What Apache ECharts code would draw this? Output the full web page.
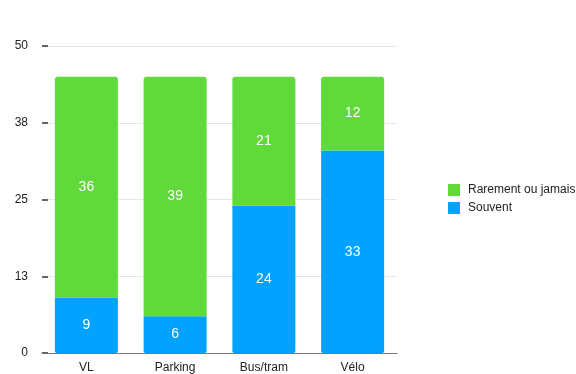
<!DOCTYPE html>
<html>
<head>
<meta charset="utf-8">
<script src="https://cdn.jsdelivr.net/npm/echarts@6/dist/echarts.min.js"></script>
<style>
  html, body { margin: 0; padding: 0; background: #fff; }
  #chart { width: 576px; height: 374px; }
</style>
</head>
<body>
<div id="chart"></div>
<script>
// Usage by mode of transport
const categories = ['VL', 'Parking', 'Bus/tram', 'Vélo'];
const souvent = [9, 6, 24, 33];
const rarement = [36, 39, 21, 12];
const seriesNames = ['Rarement ou jamais', 'Souvent'];
const yTicks = [0, 12.5, 25, 37.5, 50];

const FONT = '"Liberation Sans", Arial, sans-serif';
const chart = echarts.init(document.getElementById('chart'));

const valueLabel = {
  show: true,
  position: 'inside',
  color: '#ffffff',
  fontSize: 14,
  fontFamily: FONT
};

chart.setOption({
  animation: false,
  textStyle: { fontFamily: FONT },
  legend: {
    orient: 'vertical',
    left: 443,
    top: 179,
    itemWidth: 12,
    itemHeight: 12,
    itemGap: 6,
    icon: 'rect',
    textStyle: { fontSize: 12, color: '#222', fontFamily: FONT, padding: [0, 0, 0, 3] },
    data: seriesNames
  },
  grid: { left: 42, right: 179, top: 46, bottom: 20, containLabel: false },
  xAxis: {
    type: 'category',
    data: categories,
    axisLine: { lineStyle: { color: '#777', width: 1 } },
    axisTick: { show: false },
    axisLabel: { color: '#222', fontSize: 12, margin: 9, fontFamily: FONT }
  },
  yAxis: {
    type: 'value',
    min: yTicks[0],
    max: yTicks[yTicks.length - 1],
    interval: yTicks[1] - yTicks[0],
    axisLine: { show: false },
    axisTick: { show: true, inside: true, length: 6, lineStyle: { color: '#666', width: 2 } },
    splitLine: { lineStyle: { color: '#e6e6e6', width: 1 } },
    axisLabel: {
      color: '#222',
      fontSize: 12,
      margin: 14,
      fontFamily: FONT,
      formatter: v => String(Math.round(v))
    }
  },
  series: [
    {
      name: 'Souvent',
      type: 'bar',
      stack: 'total',
      data: souvent,
      barCategoryGap: '29%',
      itemStyle: { color: '#03a2fe', borderRadius: [0, 0, 2, 2] },
      label: valueLabel
    },
    {
      name: 'Rarement ou jamais',
      type: 'bar',
      stack: 'total',
      data: rarement,
      barCategoryGap: '29%',
      itemStyle: { color: '#60d93a', borderRadius: [3, 3, 0, 0] },
      label: valueLabel
    }
  ]
});
</script>
</body>
</html>
